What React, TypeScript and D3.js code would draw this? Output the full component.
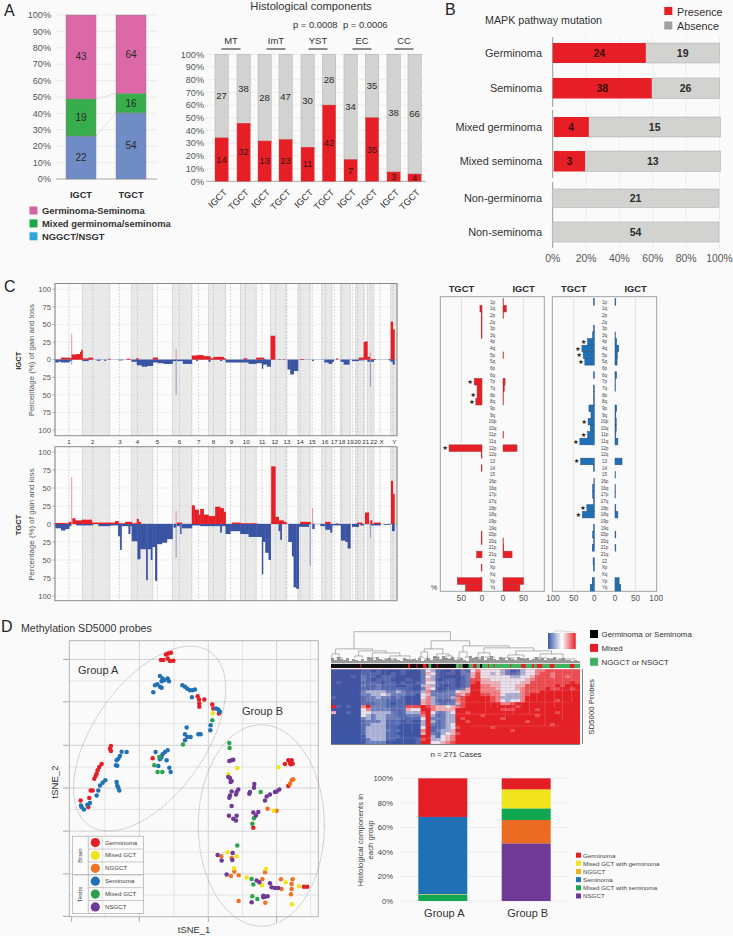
import React from "react";
import * as d3 from "d3";

const FONT = "'Liberation Sans', Arial, sans-serif";
const RED = "#e61f26", GREY = "#d2d2d0", INK = "#2a2a2a", MUTE = "#555";

/* ---------- Panel A ---------- */
const groupCats = ["IGCT", "TGCT"];
const nongermCounts = [22, 54];
const mixedCounts = [19, 16];
const germCounts = [43, 64];
const histoGroups = ["MT", "ImT", "YST", "EC", "CC"];
const histoPositive = [14, 32, 13, 23, 11, 42, 7, 35, 3, 4];
const histoNegative = [27, 38, 28, 47, 30, 28, 34, 35, 38, 66];
const histoBarCats = ["IGCT", "TGCT", "IGCT", "TGCT", "IGCT", "TGCT", "IGCT", "TGCT", "IGCT", "TGCT"];
const aLegend = ["Germinoma-Seminoma", "Mixed germinoma/seminoma", "NGGCT/NSGT"];

/* ---------- Panel B ---------- */
const mapkRows = ["Germinoma", "Seminoma", "Mixed germinoma", "Mixed seminoma", "Non-germinoma", "Non-seminoma"];
const mapkPresence = [24, 38, 4, 3, 0, 0];
const mapkAbsence = [19, 26, 15, 13, 21, 54];

/* ---------- Panel C : genome profile, [from, to, percent] in genome coordinates ---------- */
const chromEdges = [165, 247, 329, 394, 458, 517, 575, 625, 676, 721, 768, 811, 858, 893, 930, 964, 995, 1021, 1050, 1066, 1090, 1101, 1121, 1171, 1190];
const chromLabels = ["1", "2", "3", "4", "5", "6", "7", "8", "9", "10", "11", "12", "13", "14", "15", "16", "17", "18", "19", "20", "21", "22", "X", "Y"];
const chromLabelPos = [207, 278, 360, 412, 472, 538, 596, 640, 694, 738, 786, 824, 860, 900, 936, 974, 1002, 1025, 1050, 1072, 1096, 1120, 1144, 1182];
const centromeres = [207, 278, 358, 412, 472, 538, 595, 640, 691, 736, 785, 826, 860, 900, 936, 975, 1002, 1025, 1057, 1072, 1093, 1112, 1139, 1178];
const igctGain = [[165, 183, 0.5], [183, 208, 3], [208, 215, 2.5], [215, 228, 7.5], [228, 240, 8], [240, 243, 11], [243, 247, 14], [247, 265, 2], [265, 278, 3], [325, 330, 1.5], [380, 390, 1.5], [408, 415, 2], [458, 473, 3], [575, 590, 6], [590, 610, 6.5], [610, 630, 5], [630, 640, 2], [640, 670, 4], [670, 676, 2], [730, 740, 2], [768, 790, 3], [790, 795, 1], [811, 824, 34], [836, 840, 1], [850, 853, 1], [900, 910, 1], [1008, 1012, 2], [1075, 1090, 3], [1090, 1094, 25], [1094, 1101, 26], [1101, 1108, 4], [1112, 1125, 1], [1165, 1171, 1], [1171, 1177, 54], [1177, 1182, 43]];
const igctLoss = [[165, 175, 4], [175, 183, 3], [183, 208, 4], [208, 213, 2], [247, 265, 2], [290, 300, 1.5], [313, 317, 2], [355, 368, 1], [394, 410, 3], [410, 425, 8], [425, 440, 10], [440, 458, 9], [458, 473, 4], [473, 490, 5], [490, 517, 6], [517, 527, 2], [530, 548, 2], [548, 575, 6], [588, 592, 2], [625, 630, 3], [660, 665, 2], [676, 721, 4], [721, 745, 4], [745, 768, 6], [768, 785, 5], [785, 788, 13], [788, 800, 7], [800, 811, 10], [862, 870, 14], [870, 880, 21], [880, 893, 16], [936, 940, 2], [972, 985, 4], [985, 995, 6], [995, 1000, 3], [1021, 1030, 3], [1030, 1047, 7], [1055, 1075, 2], [1075, 1090, 1], [1101, 1108, 3], [1112, 1120, 3], [1165, 1171, 1], [1171, 1177, 3], [1177, 1182, 7]];
const igctSpikesUp = [[215, 37], [528, 15], [1110, 10]];
const igctSpikesDown = [[215, 7], [528, 50], [1110, 38]];
const tgctGain = [[165, 195, 1.5], [195, 205, 1], [205, 213, 3], [217, 225, 8], [225, 245, 5], [245, 275, 6], [275, 290, 2], [290, 345, 2], [345, 355, 4], [355, 375, 1], [375, 395, 3], [395, 410, 1], [410, 415, 7], [415, 422, 3], [530, 545, 2], [575, 583, 26], [583, 595, 20], [595, 600, 13], [600, 610, 21], [610, 625, 13], [625, 645, 11], [645, 660, 24], [660, 670, 22], [670, 676, 17], [695, 720, 2], [720, 770, 1], [813, 825, 80], [825, 835, 10], [835, 850, 5], [850, 858, 3], [900, 930, 3], [975, 990, 3], [1008, 1012, 1], [1070, 1085, 2], [1094, 1105, 16], [1110, 1115, 5], [1120, 1140, 2], [1172, 1177, 60], [1177, 1182, 42]];
const tgctLoss = [[165, 183, 6], [183, 195, 9], [195, 207, 7], [207, 213, 3], [228, 247, 2], [247, 278, 2], [295, 330, 3], [330, 354, 2], [354, 360, 17], [360, 364, 36], [364, 385, 3], [385, 390, 14], [390, 395, 3], [395, 412, 24], [412, 420, 49], [420, 438, 35], [438, 442, 78], [442, 452, 35], [452, 456, 50], [456, 465, 32], [465, 470, 79], [470, 485, 28], [485, 500, 26], [500, 517, 21], [520, 527, 5], [530, 538, 3], [540, 543, 14], [545, 575, 6], [575, 600, 2], [600, 660, 3], [660, 664, 12], [664, 676, 3], [676, 690, 14], [690, 720, 10], [720, 745, 14], [745, 768, 18], [768, 785, 18], [785, 788, 70], [788, 795, 25], [795, 805, 40], [805, 811, 50], [835, 840, 10], [840, 844, 22], [864, 875, 25], [875, 880, 45], [880, 888, 88], [888, 895, 90], [895, 925, 4], [936, 942, 7], [960, 975, 3], [975, 990, 8], [990, 995, 12], [995, 1021, 2], [1022, 1035, 23], [1035, 1042, 25], [1042, 1050, 34], [1055, 1075, 4], [1080, 1090, 2], [1112, 1140, 2], [1150, 1170, 1], [1175, 1182, 10]];
const tgctSpikesUp = [[215, 65], [528, 18], [937, 22]];
const tgctSpikesDown = [[528, 47], [930, 58], [1110, 19]];

/* ---------- Panel C : per arm ---------- */
const arms = ["1p", "1q", "2p", "2q", "3p", "3q", "4p", "4q", "5p", "5q", "6p", "6q", "7p", "7q", "8p", "8q", "9p", "9q", "10p", "10q", "11p", "11q", "12p", "12q", "13", "14", "15", "16p", "16q", "17p", "17q", "18p", "18q", "19p", "19q", "20p", "20q", "21p", "21q", "22", "Xp", "Xq", "Yp", "Yq"];
const armGainTgct = { "1q": 5, "2p": 2, "2q": 2, "3p": 2, "3q": 2, "7p": 19, "7q": 12, "8p": 12, "8q": 15, "12p": 80, "12q": 2, "14": 2, "20p": 2, "20q": 2, "21q": 13, "Xp": 2, "Yp": 60, "Yq": 40 };
const armGainIgct = { "1p": 1, "1q": 8, "2p": 1, "5p": 1, "7p": 5, "7q": 3, "8p": 1, "8q": 1, "11p": 1, "12p": 34, "20q": 1, "21p": 2, "21q": 22, "Yp": 50, "Yq": 41 };
const armLossTgct = { "1p": 2, "3p": 2, "3q": 4, "4p": 16, "4q": 30, "5p": 27, "5q": 23, "6q": 2, "7q": 2, "8p": 2, "8q": 2, "9p": 13, "9q": 8, "10p": 15, "10q": 10, "11p": 16, "11q": 35, "13": 33, "14": 2, "16p": 1, "16q": 4, "17p": 4, "17q": 2, "18p": 18, "18q": 29, "19q": 2, "20p": 4, "20q": 2, "21p": 5, "22": 3, "Xp": 2, "Yp": 5, "Yq": 10 };
const armLossIgct = { "1p": 2, "3q": 1, "4p": 4, "4q": 9, "5p": 6, "5q": 5, "6q": 4, "7p": 1, "7q": 1, "9p": 4, "9q": 2, "10p": 3, "10q": 3, "11p": 2, "11q": 7, "13": 17, "15": 1, "16q": 1, "17p": 1, "18p": 2, "18q": 7, "20p": 2, "21p": 2, "Yp": 10, "Yq": 14 };
const starsGain = ["7p", "8p", "8q", "12p"];
const starsLoss = ["4p", "4q", "5p", "5q", "10p", "11p", "11q", "13", "18p", "18q"];

/* ---------- Panel D : tSNE, arbitrary embedding units ---------- */
const tsneGerminoma = [[490, 150], [483, 150], [498, 133], [505, 130], [513, 128], [503, 145], [510, 153], [520, 152], [593, 258], [597, 268], [613, 268], [598, 280], [598, 290], [637, 283], [640, 295], [657, 310], [333, 407], [330, 415], [333, 422], [305, 461], [298, 470], [293, 480], [290, 490], [287, 497], [283, 505], [272, 540], [278, 540], [268, 563], [242, 570], [265, 590], [458, 444], [855, 461], [865, 450], [875, 450], [870, 458], [878, 460], [872, 462], [865, 527], [760, 652], [912, 828], [922, 828]];
const tsneSeminoma = [[460, 246], [465, 225], [472, 222], [480, 230], [485, 233], [480, 198], [488, 205], [485, 213], [493, 210], [503, 205], [507, 213], [547, 225], [555, 230], [562, 236], [570, 240], [577, 240], [585, 238], [576, 261], [648, 295], [655, 298], [660, 305], [632, 345], [631, 360], [560, 352], [555, 372], [562, 380], [572, 380], [555, 390], [595, 372], [602, 372], [365, 424], [380, 425], [360, 437], [355, 445], [350, 450], [348, 465], [352, 466], [467, 425], [503, 420], [495, 425], [488, 432], [485, 440], [480, 447], [500, 450], [475, 467], [508, 472], [512, 485], [350, 515], [352, 525], [355, 532], [358, 540], [316, 510], [308, 517], [300, 525], [295, 540], [290, 555], [270, 578], [262, 583], [252, 597], [245, 590], [243, 585]];
const tsneMixedTestis = [[637, 330], [549, 403], [478, 440], [463, 465], [473, 485], [487, 485], [688, 398], [689, 413], [782, 545], [762, 623], [757, 640], [712, 705], [755, 805], [760, 822], [757, 857], [772, 865]];
const tsneMixedBrain = [[638, 310], [712, 473], [835, 471], [685, 492], [821, 601], [683, 725], [710, 737], [702, 773], [798, 775], [740, 801], [786, 824], [857, 815], [897, 827], [876, 881]];
const tsneNggct = [[875, 510], [880, 507], [870, 520], [803, 595], [830, 601], [664, 737], [695, 742], [703, 783], [693, 796], [716, 794], [795, 785], [787, 806], [843, 806], [878, 806], [875, 820], [875, 835], [845, 835], [873, 851], [716, 871], [796, 876]];
const tsneNsgct = [[688, 452], [695, 450], [700, 448], [685, 500], [690, 503], [692, 515], [695, 512], [763, 521], [762, 532], [750, 545], [748, 550], [715, 537], [710, 545], [708, 552], [695, 543], [690, 555], [688, 562], [695, 587], [687, 616], [710, 616], [700, 625], [708, 630], [760, 606], [775, 605], [768, 615], [810, 552], [800, 558], [795, 570], [830, 543], [838, 537], [825, 545], [653, 733], [665, 750], [698, 727], [697, 748], [680, 792], [770, 810], [778, 815], [810, 818], [815, 830], [825, 832], [835, 832], [755, 875], [790, 855], [795, 858], [803, 857], [790, 860]];

const dLegendRows = ["Germinoma", "Mixed GCT", "NGGCT", "Seminoma", "Mixed GCT", "NSGCT"];
const dendrogram = [31,
  [14, [9, [4, 0, 2], [5, 5, 13]], [12, [7, 26, 34], [10, [5, 40, 50], [7, [4, 58, 70], [3, 80, 92]]]]],
  [22,
    [14, [11, [6, 96, 100], [7, [4, 102, 108], [3, 104, 106]]], [9, [6, 112, 118], [7, [4, 122, 128], [3, 130, 134]]], 109],
    [17, [11, [5, 137, 142], [6, 146, 150]], [15, [10, [5, 155, 165], [6, 168, 178]], [12, [8, [5, 185, 200], [4, 205, 215]], [9, [5, 220, 235], [4, 240, 265]]]], 151]
  ]
];
const dendroFuzz = [5, 3, 6, 4, 3, 5, 2, 4, 3, 2, 4, 2, 6, 5, 3, 6, 4, 3, 4, 5, 3, 4, 3, 2, 5, 4, 3, 4, 3, 5, 2, 3, 4, 3, 7, 6, 4, 7, 5, 4, 6, 3, 4, 5, 3, 2, 7, 5, 6, 4, 7, 3, 5, 7, 4, 3, 6, 5, 3, 5, 4, 3, 6, 5, 4, 5, 3, 4, 6, 4, 5, 3, 5, 4, 6, 3, 4, 5, 3, 3, 2, 3, 2, 2];
const caseClassRuns = [[0, 136, "b"], [32, 33, "r"], [84, 86, "r"], [93, 94, "r"], [100, 104, "r"], [106, 109, "g"], [115, 116, "r"], [136, 143, "g"], [140, 141, "r"], [143, 150, "b"], [150, 154, "g"], [154, 157, "r"], [157, 158, "b"], [158, 159, "r"], [159, 162, "g"], [162, 165, "b"], [165, 271, "g"], [171, 172, "r"], [177, 178, "r"], [195, 196, "r"], [207, 212, "r"], [219, 221, "r"], [224, 230, "r"], [238, 243, "r"], [260, 265, "r"]];
const heatRows = [
  "000000 11 0100 001 000 24 31 001 02146 44443201344667777777",
  "000000 11 1100 101 000 25 41 011 02257 44343212344677677777",
  "000010 21 1011 100 000 24 31 000 01257 44444433445777677677",
  "000000 21 0111 000 100 25 30 011 01277 55444444456777777777",
  "010000 11 1101 101 001 24 41 111 01278 55554444557777777787",
  "000000 21 1211 100 100 35 31 001 01288 66554445577777787888",
  "000000 11 1211 111 100 25 40 011 12588 66654445677778778878",
  "000000 23 3332 232 111 36 21 122 45588 66664444677788888888",
  "000000 22 3343 222 110 45 22 222 65788 77664333678888888888",
  "100000 12 2322 121 000 46 32 223 67888 88763333688888888888",
  "000000 12 2221 111 000 56 31 112 67888 88764344688888878888",
  "000000 11 1221 011 000 56 32 122 57888 88886678888888888888",
  "810100 68 2221 111 777 87 65 545 67888 88888887888888888888",
  "000000 46 2222 111 544 88 65 555 88888 88887778888788888888",
  "500100 44 3333 211 333 78 42 234 88788 88888888888888878888",
  "000000 43 2332 211 222 68 31 233 88888 78888888888788888888",
  "000000 23 2332 221 111 48 22 233 87888 88887888888888888888",
  "000000 12 2231 110 100 38 31 233 88788 88888888878888888888",
  "000000 12 3331 110 000 38 21 234 88888 88888888888888788888",
  "000000 13 3331 100 000 48 11 234 78888 88788888888888888888",
  "000000 13 3332 110 000 68 12 335 88888 88888878888888888888",
  "000000 13 3331 100 000 58 21 345 78888 88888888888888888888",
  "000000 03 3331 110 000 88 31 456 88888 88888888888888888888",
  "000000 02 3331 100 001 78 33 456 88888 88888888888888888888",
  "000000 02 2220 000 001 88 44 567 88888 88888888888888888888",
].map((r) => r.replace(/ /g, ""));
/* pale probe-cluster streaks: [case, firstRow, lastRow] and [row, firstCase, lastCase] */
const heatStreakCols = [[33, 1, 24], [37, 3, 24], [43, 1, 24], [48, 6, 24], [54, 4, 24], [59, 0, 24], [64, 2, 24], [72, 6, 22], [79, 8, 24], [88, 3, 20], [104, 0, 10], [116, 2, 24], [122, 0, 14], [128, 4, 24], [168, 0, 14], [174, 0, 12], [181, 0, 12], [190, 2, 16], [198, 0, 14], [207, 0, 12], [216, 0, 14], [224, 0, 10], [233, 2, 18], [243, 0, 12], [252, 0, 16], [262, 0, 10]];
const heatStreakRows = [[5, 34, 96], [8, 30, 136], [13, 34, 90], [18, 32, 100], [23, 32, 110], [7, 150, 271], [11, 140, 260], [15, 136, 230], [19, 150, 250]];
const heatDarkRows = [[3, 136, 146], [6, 136, 150], [9, 136, 144], [12, 136, 142], [14, 136, 140], [17, 136, 141], [20, 136, 139]];
const heatKeyStops = [0, 2, 4, 6, 8];
const methGroups = ["Group A", "Group B"];
const methKeysA = ["MixedSem", "MixedGerm", "Seminoma", "Germinoma"];
const methKeysB = ["NSGCT", "NGGCT", "MixedSem", "MixedGerm", "Germinoma"];
const methGroupA = [5, 0.5, 63, 31.5];
const methGroupB = [47, 19, 9.5, 15.5, 9];
const dLegend2 = ["Germinoma", "Mixed GCT with germinoma", "NGGCT", "Seminoma", "Mixed GCT with seminoma", "NSGCT"];

/* ---------- helpers ---------- */
const stackOf = (vals: number[]) => {
  const total = d3.sum(vals);
  let acc = 0;
  return vals.map((v) => {
    const s = { y0: (acc / total) * 100, y1: ((acc + v) / total) * 100, v };
    acc += v;
    return s;
  });
};
const T = (p: any) => <text fontFamily={FONT} fill={INK} {...p} />;

function PanelA() {
  const y = d3.scaleLinear([0, 100], [179, 15]);
  const x = d3.scaleOrdinal<string, number>().domain(groupCats).range([66, 116]);
  const w = 30;
  const cols = ["#6f8cc6", "#37ad4b", "#dc68a8"];
  const stacks = groupCats.map((_, i) => stackOf([nongermCounts[i], mixedCounts[i], germCounts[i]]));
  const y2 = d3.scaleLinear([0, 100], [181.3, 54.3]);
  const barX = [215, 237, 258, 279, 301, 322.5, 344, 365.5, 387, 408];
  const groupCenter = [231, 276, 318, 362, 404];
  return (
    <g>
      {d3.range(0, 101, 10).map((t) => (
        <g key={t}>
          <line x1={56} x2={157} y1={y(t)} y2={y(t)} stroke={t ? "#ececec" : "#aaa"} />
          <T x={51} y={y(t) + 3.2} fontSize={9.1} textAnchor="end" fill={MUTE}>{t}%</T>
        </g>
      ))}
      <line x1={96} x2={116} y1={y(stacks[0][1].y1)} y2={y(stacks[1][1].y1)} stroke="#e0e0e0" />
      <line x1={96} x2={116} y1={y(stacks[0][0].y1)} y2={y(stacks[1][0].y1)} stroke="#e0e0e0" />
      {groupCats.map((c, i) => (
        <g key={c}>
          {stacks[i].map((s, j) => (
            <g key={j}>
              <rect x={x(c)} width={w} y={y(s.y1)} height={y(s.y0) - y(s.y1)} fill={cols[j]} stroke="#888" strokeWidth={0.5} />
              <T x={x(c)! + w / 2} y={(y(s.y0) + y(s.y1)) / 2 + 3.5} fontSize={10} textAnchor="middle">{s.v}</T>
            </g>
          ))}
          <T x={x(c)! + w / 2} y={198} fontSize={9.2} fontWeight="bold" textAnchor="middle">{c}</T>
        </g>
      ))}
      {aLegend.map((l, i) => (
        <g key={l}>
          <rect x={29.5} y={206.5 + i * 12.9} width={8} height={8} fill={["#d264a4", "#1aa64a", "#2ba6dc"][i]} />
          <T x={42} y={213.5 + i * 13.1} fontSize={9.4} fontWeight="bold" fill="#333">{l}</T>
        </g>
      ))}

      <T x={311} y={9.5} fontSize={11.2} textAnchor="middle" fill="#333">Histological components</T>
      <T x={293} y={28} fontSize={9.4} fill="#333">p = 0.0008</T>
      <T x={343} y={28} fontSize={9.4} fill="#333">p = 0.0006</T>
      {histoGroups.map((g, i) => (
        <g key={g}>
          <T x={groupCenter[i]} y={44} fontSize={9.5} textAnchor="middle" fill="#333">{g}</T>
          <line x1={groupCenter[i] - 9.5} x2={groupCenter[i] + 9.5} y1={49} y2={49} stroke="#444" strokeWidth={1.2} />
        </g>
      ))}
      {d3.range(0, 101, 10).map((t) => (
        <g key={t}>
          <line x1={206} x2={426} y1={y2(t)} y2={y2(t)} stroke={t ? "#ececec" : "#aaa"} />
          <T x={204} y={y2(t) + 3.2} fontSize={9.1} textAnchor="end" fill={MUTE}>{t}%</T>
        </g>
      ))}
      {histoBarCats.map((c, i) => {
        const [a, b] = stackOf([histoPositive[i], histoNegative[i]]);
        const cx = barX[i] + 6.6;
        return (
          <g key={i}>
            <rect x={barX[i]} width={13.2} y={y2(b.y1)} height={y2(b.y0) - y2(b.y1)} fill={GREY} stroke="#aaa" strokeWidth={0.5} />
            <rect x={barX[i]} width={13.2} y={y2(a.y1)} height={y2(a.y0) - y2(a.y1)} fill={RED} stroke="#c44" strokeWidth={0.4} />
            <T x={cx} y={(y2(a.y0) + y2(a.y1)) / 2 + 3.2} fontSize={9.5} textAnchor="middle" fill="#3a1414">{a.v}</T>
            <T x={cx} y={(y2(b.y0) + y2(b.y1)) / 2 + 3.2} fontSize={9.5} textAnchor="middle">{b.v}</T>
            <T transform={`translate(${cx + 6},193) rotate(-45)`} fontSize={9.2} textAnchor="end" fill="#333">{c}</T>
          </g>
        );
      })}
    </g>
  );
}

function PanelB() {
  const x = d3.scaleLinear([0, 100], [552.7, 719.5]);
  const tops = [43, 78, 117, 151, 189, 222];
  const hs = [20, 20.5, 20, 20.5, 18.5, 20];
  const off = [0, 0, 1, 1, -0.5, -0.5];
  return (
    <g>
      <T x={485} y={24} fontSize={10.7} fill="#333">MAPK pathway mutation</T>
      <rect x={664.3} y={7} width={8} height={8} fill={RED} />
      <rect x={664.3} y={21.5} width={8} height={8} fill="#a0a0a0" />
      <T x={677} y={15.5} fontSize={10.8} fill="#333">Presence</T>
      <T x={677} y={30} fontSize={10.8} fill="#333">Absence</T>
      {d3.range(20, 101, 20).map((t) => <line key={t} x1={x(t)} x2={x(t)} y1={36} y2={248} stroke="#eeeeee" />)}
      {[[37, 107], [110, 178], [182, 248]].map(([a, b]) => <line key={a} x1={552.7} x2={552.7} y1={a} y2={b} stroke="#999" />)}
      {mapkRows.map((r, i) => {
        const tot = mapkPresence[i] + mapkAbsence[i];
        const p = (mapkPresence[i] / tot) * 100;
        const cy = tops[i] + hs[i] / 2;
        return (
          <g key={r}>
            <T x={542} y={cy + 3.6} fontSize={10.9} textAnchor="end" fill="#333">{r}</T>
            <rect x={x(p) + off[i]} width={x(100) - x(p)} y={tops[i]} height={hs[i]} fill={GREY} stroke="#aaa" strokeWidth={0.5} />
            {p > 0 && <rect x={x(0) + off[i]} width={x(p) - x(0)} y={tops[i]} height={hs[i]} fill={RED} />}
            {p > 0 && <T x={x(p / 2) + off[i]} y={cy + 3.7} fontSize={10.5} fontWeight="bold" textAnchor="middle" fill="#3a1010">{mapkPresence[i]}</T>}
            <T x={x(p + (100 - p) / 2) + off[i]} y={cy + 3.7} fontSize={10.5} fontWeight="bold" textAnchor="middle">{mapkAbsence[i]}</T>
          </g>
        );
      })}
      {d3.range(0, 101, 20).map((t) => <T key={t} x={x(t)} y={261.7} fontSize={10.4} textAnchor="middle" fill={MUTE}>{t}%</T>)}
    </g>
  );
}

function Genome(props: any) {
  const { top, bottom, y100, y0, name, gain, loss, up, down, showLabels } = props;
  const x = d3.scaleLinear([165, 1190], [55, 397]);
  const y = d3.scaleLinear([0, 100], [y0, y100]);
  const yd = d3.scaleLinear([0, 100], [y0, 2 * y0 - y100]);
  return (
    <g>
      <rect x={55} y={top} width={342} height={bottom - top} fill="#fcfcfc" />
      {chromLabels.map((c, i) => i % 2 === 1 && (
        <rect key={c} x={x(chromEdges[i])} y={top} width={x(chromEdges[i + 1]) - x(chromEdges[i])} height={bottom - top} fill="#e9e9e9" />
      ))}
      {chromEdges.map((e) => <line key={e} x1={x(e)} x2={x(e)} y1={top} y2={bottom} stroke="#c8c8c8" strokeWidth={0.6} />)}
      {d3.range(-100, 101, 25).map((t) => {
        const py = t >= 0 ? y(t) : yd(-t);
        return (
          <g key={t}>
            {t !== 0 && <line x1={55} x2={397} y1={py} y2={py} stroke="#dcdcdc" strokeWidth={0.6} strokeDasharray="2 1.5" />}
            <line x1={52.5} x2={55} y1={py} y2={py} stroke="#888" strokeWidth={0.6} />
            <T x={51} y={py + 2.7} fontSize={7.6} textAnchor="end" fill={MUTE}>{Math.abs(t)}</T>
          </g>
        );
      })}
      {centromeres.map((c) => <line key={c} x1={x(c)} x2={x(c)} y1={top} y2={bottom} stroke="#bcbcbc" strokeWidth={0.7} strokeDasharray="1.6 1.6" />)}
      <line x1={55} x2={397} y1={y0} y2={y0} stroke="#3a54a4" strokeWidth={0.5} opacity={0.7} />
      {up.map(([p, v]: number[]) => <line key={p} x1={x(p)} x2={x(p)} y1={y0} y2={y(v)} stroke={RED} strokeWidth={0.9} opacity={0.5} />)}
      {down.map(([p, v]: number[]) => <line key={p} x1={x(p)} x2={x(p)} y1={y0} y2={yd(v)} stroke="#3a54a4" strokeWidth={0.9} opacity={0.6} />)}
      {gain.map(([a, b, v]: number[]) => <rect key={a} x={x(a)} width={x(b) - x(a) + 0.4} y={y(v)} height={y0 - y(v)} fill={RED} />)}
      {loss.map(([a, b, v]: number[]) => <rect key={a} x={x(a)} width={x(b) - x(a) + 0.4} y={y0} height={yd(v) - y0} fill="#3a54a4" />)}
      <rect x={55} y={top} width={342} height={bottom - top} fill="none" stroke="#8a8a8a" strokeWidth={1} />
      <T transform={`translate(34,${y0 + 0.5}) rotate(-90)`} fontSize={7.9} textAnchor="middle" fill={MUTE}>Percentage (%) of gain and loss</T>
      <T transform={`translate(21,${y0 + 1}) rotate(-90)`} fontSize={7.6} fontWeight="bold" textAnchor="middle">{name}</T>
      {showLabels && chromLabels.map((c, i) => <T key={c} x={x(chromLabelPos[i])} y={443.5} fontSize={6.2} textAnchor="middle" fill="#333">{c}</T>)}
    </g>
  );
}

function ArmPanel(props: any) {
  const { x0, x1, tgct, igct, color, stroke, ticks, stars, boxX, boxW, maxMark, labelX } = props;
  const y = d3.scalePoint<string>().domain(arms).range([302, 587.7]);
  const sL = d3.scaleLinear([0, 50], [x0, x0 - 20.6]);
  const sR = d3.scaleLinear([0, 50], [x1, x1 + 20.6]);
  const h = 6.64;
  return (
    <g>
      <rect x={boxX} y={296.7} width={boxW} height={294.6} fill="#fafafa" stroke="#999" strokeWidth={0.9} />
      <line x1={sL(50)} x2={sL(50)} y1={296.7} y2={591.3} stroke="#e2e2e2" />
      <line x1={sR(50)} x2={sR(50)} y1={296.7} y2={591.3} stroke="#e2e2e2" />
      {arms.map((a) => (
        <g key={a}>
          <T x={labelX} y={y(a)! + 1.6} fontSize={4.6} textAnchor="middle" fill="#444">{a}</T>
          {tgct[a] && <rect x={sL(tgct[a])} width={sL(0) - sL(tgct[a])} y={y(a)! - h / 2} height={h} fill={color} stroke={stroke} strokeWidth={0.5} />}
          {igct[a] && <rect x={sR(0)} width={sR(igct[a]) - sR(0)} y={y(a)! - h / 2} height={h} fill={color} stroke={stroke} strokeWidth={0.5} />}
        </g>
      ))}
      {stars.map((a: string) => (
        <text key={a} x={sL(tgct[a]) - 4} y={y(a)! + 2} fontSize={6.4} fontFamily="'DejaVu Sans'" textAnchor="middle" fill="#222">★</text>
      ))}
      {ticks.map((t: number) => <T key={"l" + t} x={sL(t)} y={601} fontSize={8.2} textAnchor="middle" fill={MUTE}>{t}</T>)}
      {ticks.map((t: number) => <T key={"r" + t} x={sR(t)} y={601} fontSize={8.2} textAnchor="middle" fill={MUTE}>{t}</T>)}
      <T x={sL(maxMark)} y={291.7} fontSize={9.4} fontWeight="bold" textAnchor="middle">TGCT</T>
      <T x={sR(maxMark)} y={291.7} fontSize={9.4} fontWeight="bold" textAnchor="middle">IGCT</T>
    </g>
  );
}

function Tsne() {
  const x = d3.scaleLinear([208, 955], [69.3, 318.3]);
  const y = d3.scaleLinear([92, 918], [640.7, 916.7]);
  const vMajor = [418, 625, 830], vMinor = [315, 522, 728, 932], vTicks = [215, 418, 625, 830];
  const hMajor = [148, 275, 405, 533, 662, 790], hMinor = [212, 340, 470, 597, 725, 853], hTicks = [148, 275, 405, 533, 662, 790, 917];
  const series: [number[][], string][] = [
    [tsneGerminoma, "#e31f26"], [tsneSeminoma, "#2271b5"], [tsneMixedTestis, "#2ba24c"],
    [tsneNggct, "#ef7322"], [tsneMixedBrain, "#f1e31c"], [tsneNsgct, "#6f3996"],
  ];
  const legColors = ["#e31f26", "#f1e31c", "#ef7322", "#2271b5", "#2ba24c", "#6f3996"];
  const rowY = d3.scaleLinear([0, 6], [677, 908]);
  return (
    <g>
      <T x={21} y={631.7} fontSize={10.6} fill="#333">Methylation SD5000 probes</T>
      <rect x={69.3} y={640.7} width={249} height={276} fill="#fafafa" />
      {vMinor.map((v) => <line key={v} x1={x(v)} x2={x(v)} y1={640.7} y2={916.7} stroke="#e4e4e4" />)}
      {vMajor.map((v) => <line key={v} x1={x(v)} x2={x(v)} y1={640.7} y2={916.7} stroke="#d4d4d4" />)}
      {hMinor.map((v) => <line key={v} x1={69.3} x2={318.3} y1={y(v)} y2={y(v)} stroke="#e4e4e4" />)}
      {hMajor.map((v) => <line key={v} x1={69.3} x2={318.3} y1={y(v)} y2={y(v)} stroke="#d4d4d4" />)}
      {vTicks.map((v) => <line key={v} x1={x(v)} x2={x(v)} y1={916.7} y2={922} stroke="#aaa" />)}
      {hTicks.map((v) => <line key={v} x1={63} x2={69.3} y1={y(v)} y2={y(v)} stroke="#aaa" />)}
      <rect x={69.3} y={640.7} width={249} height={276} fill="none" stroke="#b4b4b4" />
      <ellipse cx={0} cy={0} rx={105.7} ry={56} transform={`translate(${x(449)},${y(385)}) rotate(-55)`} fill="none" stroke="#888" strokeWidth={0.6} strokeDasharray="1 0.8" />
      <ellipse cx={x(784)} cy={y(645)} rx={63} ry={100.7} fill="none" stroke="#999" strokeWidth={0.6} strokeDasharray="1.5 0.6" />
      {series.map(([pts, c]) => pts.map(([a, b], i) => <circle key={c + i} cx={x(a)} cy={y(b)} r={2.25} fill={c} />))}
      <T x={78} y={673.5} fontSize={11} fill="#333">Group A</T>
      <T x={242} y={714.5} fontSize={11} fill="#333">Group B</T>
      <T transform={`translate(57.5,782) rotate(-90)`} fontSize={9.6} textAnchor="middle" fill="#333">tSNE_2</T>
      <T x={194} y={933} fontSize={9.4} textAnchor="middle" fill="#333">tSNE_1</T>
      <rect x={x(218)} y={y(677)} width={x(430) - x(218)} height={y(908) - y(677)} fill="#fbfbfb" stroke="#aaa" strokeWidth={0.7} />
      <line x1={x(265)} x2={x(265)} y1={y(677)} y2={y(908)} stroke="#aaa" strokeWidth={0.7} />
      <line x1={x(308)} x2={x(308)} y1={y(677)} y2={y(908)} stroke="#ccc" strokeWidth={0.5} />
      {dLegendRows.map((r, i) => (
        <g key={i}>
          {i > 0 && <line x1={x(i === 3 ? 218 : 265)} x2={x(430)} y1={y(rowY(i))} y2={y(rowY(i))} stroke="#aaa" strokeWidth={i === 3 ? 1 : 0.6} />}
          <circle cx={x(286)} cy={y((rowY(i) + rowY(i + 1)) / 2)} r={4.6} fill={legColors[i]} />
          <T x={x(315)} y={y((rowY(i) + rowY(i + 1)) / 2) + 2} fontSize={6.2} fill="#444">{r}</T>
        </g>
      ))}
      <T transform={`translate(${x(245)},${y(735)}) rotate(-90)`} fontSize={6.2} textAnchor="middle" fill="#444">Brain</T>
      <T transform={`translate(${x(245)},${y(852)}) rotate(-90)`} fontSize={6.2} textAnchor="middle" fill="#444">Testis</T>
    </g>
  );
}

function Heatmap() {
  const x = d3.scaleLinear([0, 271], [331, 580]);
  const h = d3.scaleLinear([0, 31], [663, 631.7]);
  const colX = d3.scaleLinear([0, 50], [331, 580]);
  const rowY = d3.scaleLinear([0, heatRows.length], [669.3, 744]);
  const color = d3.scaleLinear<string>().domain(heatKeyStops).range(["#3c56a6", "#6a80bd", "#e4e2ee", "#ee7f82", "#e42127"]);
  const segs: string[] = [];
  const walk = (n: any): [number, number] => {
    if (typeof n === "number") return [n, 5];
    const [ht, a, b, fx] = n;
    const [xa, ha] = walk(a);
    const [xb, hb] = walk(b);
    segs.push(`M${x(xa)},${h(ha)}V${h(ht)}H${x(xb)}V${h(hb)}`);
    return [fx ?? (xa + xb) / 2, ht];
  };
  walk(dendrogram);
  const fuzzX = d3.scaleLinear([0, dendroFuzz.length - 1], [331, 580]);
  const fuzz = d3.area<number>().x((_, i) => fuzzX(i)).y0(663.3).y1((d) => h(d)).curve(d3.curveStepAfter)(dendroFuzz)!;
  const classColor: any = { b: "#111", r: RED, g: "#3fb35f" };
  const legendLabels = ["Germinoma or Seminoma", "Mixed", "NGGCT or NSGCT"];
  const legendColors = ["#000", RED, "#3fb35f"];
  return (
    <g>
      <defs>
        <linearGradient id="hmkey">
          <stop offset="0" stopColor="#3c56a6" /><stop offset="0.5" stopColor="#ffffff" /><stop offset="1" stopColor="#e42127" />
        </linearGradient>
        <filter id="hmblur" x="0" y="0" width="1" height="1"><feGaussianBlur stdDeviation="0.7" /></filter>
        <clipPath id="hmclip"><rect x={331} y={669.3} width={249} height={74.7} /></clipPath>
      </defs>
      <path d={fuzz} fill="#9a9a9a" />
      <path d={segs.join("")} fill="none" stroke="#777" strokeWidth={0.55} />
      {caseClassRuns.map(([a, b, c]: any, i) => <rect key={i} x={x(a)} width={x(b) - x(a)} y={664} height={4} fill={classColor[c]} />)}
      <g clipPath="url(#hmclip)">
        <rect x={331} y={669.3} width={249} height={74.7} fill="#e42127" />
        <g filter="url(#hmblur)">
          {heatRows.map((r, i) => r.split("").map((ch, j) => (
            <rect key={i + "-" + j} x={colX(j)} y={rowY(i)} width={colX(j + 1) - colX(j) + 0.3} height={rowY(i + 1) - rowY(i) + 0.3} fill={color(+ch)} />
          )))}
        </g>
        {heatStreakCols.map(([c, a, b], i) => (
          <line key={"c" + i} x1={x(c)} x2={x(c)} y1={rowY(a)} y2={rowY(b + 1)} stroke="#ffffff" strokeWidth={0.7} opacity={0.22} />
        ))}
        {heatStreakRows.map(([r, a, b], i) => (
          <line key={"r" + i} x1={x(a)} x2={x(b)} y1={rowY(r)} y2={rowY(r)} stroke="#ffffff" strokeWidth={0.6} opacity={0.22} />
        ))}
        {heatDarkRows.map(([r, a, b], i) => (
          <line key={"d" + i} x1={x(a)} x2={x(b)} y1={rowY(r)} y2={rowY(r)} stroke="#3c56a6" strokeWidth={0.9} opacity={0.55} />
        ))}
      </g>
      <line x1={331} x2={580} y1={744.5} y2={744.5} stroke="#333" strokeWidth={0.6} />
      <line x1={582.5} x2={582.5} y1={669} y2={744} stroke="#333" strokeWidth={0.6} />
      <T transform="translate(594,707) rotate(-90)" fontSize={7.9} textAnchor="middle" fill="#333">SD5000 Probes</T>
      <T x={456} y={757} fontSize={7.9} textAnchor="middle" fill="#333">n = 271 Cases</T>
      <rect x={548} y={633} width={27.7} height={16} fill="url(#hmkey)" />
      <path d="M552,633 Q556,630 562,631 T574,632" fill="none" stroke="#999" strokeWidth={0.4} />
      {legendLabels.map((l, i) => (
        <g key={l}>
          <rect x={590} y={630 + i * 13.9} width={8} height={8} fill={legendColors[i]} />
          <T x={601.5} y={636.8 + i * 13.9} fontSize={7.9} fill="#333">{l}</T>
        </g>
      ))}
    </g>
  );
}

function MethBars() {
  const y = d3.scaleLinear([0, 100], [901, 778.3]);
  const colors: any = { NSGCT: "#6f3996", NGGCT: "#ec6b23", Seminoma: "#1f70b4", MixedSem: "#12a650", MixedGerm: "#e3d83a", Germinoma: "#e31f26" };
  const barX = [418.3, 501.7];
  const legendCols = ["#e31f26", "#f1e31c", "#f0b21c", "#1f70b4", "#12a650", "#6f3996"];
  return (
    <g>
      {d3.range(0, 101, 20).map((t) => (
        <g key={t}>
          <line x1={400} x2={568} y1={y(t)} y2={y(t)} stroke="#ececec" />
          <T x={393} y={y(t) + 2.8} fontSize={7.6} textAnchor="end" fill="#444">{t}%</T>
        </g>
      ))}
      {methGroups.map((g, i) => {
        const vals = i === 0 ? methGroupA : methGroupB;
        const keys = i === 0 ? methKeysA : methKeysB;
        return (
          <g key={g}>
            {stackOf(vals).map((s, j) => (
              <rect key={j} x={barX[i]} width={49} y={y(s.y1)} height={y(s.y0) - y(s.y1)} fill={keys[j] === "MixedGerm" && i === 1 ? "#f1e31c" : colors[keys[j]]} />
            ))}
            <T x={barX[i] + 26} y={916.7} fontSize={11} textAnchor="middle" fill="#333">{g}</T>
          </g>
        );
      })}
      <T transform="translate(363,840) rotate(-90)" fontSize={7.8} textAnchor="middle" fill="#444">Histological components in</T>
      <T transform="translate(373,840) rotate(-90)" fontSize={7.8} textAnchor="middle" fill="#444">each group</T>
      {dLegend2.map((l, i) => (
        <g key={l}>
          <rect x={576} y={852.7 + i * 8.15} width={5} height={5} fill={legendCols[i]} />
          <T x={583} y={857.6 + i * 8.15} fontSize={6.2} fill="#444">{l}</T>
        </g>
      ))}
    </g>
  );
}

export default function App() {
  return (
    <svg width={733} height={936} viewBox="0 0 733 936" style={{ position: "absolute", left: 0, top: 0, background: "#fafafa" }}>
      {[["A", 4, 15.5], ["B", 445, 15], ["C", 4, 291.5], ["D", 1, 632]].map(([l, a, b]: any) => (
        <T key={l} x={a} y={b} fontSize={16} fill="#222">{l}</T>
      ))}
      <PanelA />
      <PanelB />
      <Genome top={283.5} bottom={435.7} y100={289.3} y0={359.7} name="IGCT" gain={igctGain} loss={igctLoss} up={igctSpikesUp} down={igctSpikesDown} showLabels />
      <Genome top={446.7} bottom={600.7} y100={452} y0={524} name="TGCT" gain={tgctGain} loss={tgctLoss} up={tgctSpikesUp} down={tgctSpikesDown} />
      <ArmPanel x0={482} x1={503} tgct={armGainTgct} igct={armGainIgct} color={RED} stroke="#a33" ticks={[0, 50]} stars={starsGain} boxX={440.3} boxW={104} maxMark={50} labelX={492.5} />
      <ArmPanel x0={594.3} x1={615} tgct={armLossTgct} igct={armLossIgct} color="#1f70b4" stroke="#2a4f7f" ticks={[0, 50, 100]} stars={starsLoss} boxX={552.3} boxW={104.4} maxMark={50} labelX={604.6} />
      <T x={431} y={590} fontSize={7} fill="#444">%</T>
      <Tsne />
      <Heatmap />
      <MethBars />
    </svg>
  );
}
